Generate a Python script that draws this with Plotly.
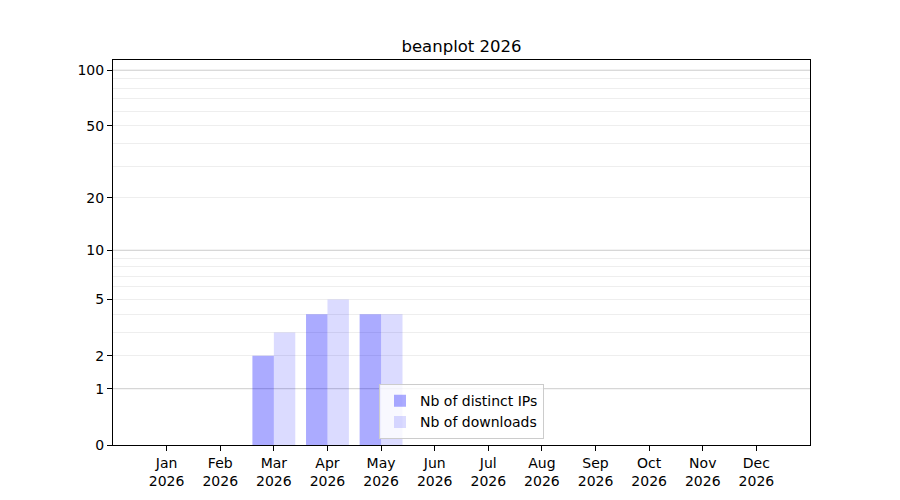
import plotly.graph_objects as go

# monthly stats for beanplot, 2026
months = ["Jan", "Feb", "Mar", "Apr", "May", "Jun",
          "Jul", "Aug", "Sep", "Oct", "Nov", "Dec"]
year = "2026"
distinct_ips = [0, 0, 2, 4, 4, 0, 0, 0, 0, 0, 0, 0]
downloads = [0, 0, 3, 5, 4, 0, 0, 0, 0, 0, 0, 0]

# y axis is log(1 + n): bars start at 1 on a log axis
y_ticks = [0, 1, 2, 5, 10, 20, 50, 100]
minor_grid = [2, 3, 4, 5, 6, 7, 8, 9, 20, 30, 40, 50, 60, 70, 80, 90]
major_grid = [1, 10, 100]

font = "DejaVu Sans"
x = list(range(len(months)))

fig = go.Figure()
fig.add_trace(go.Bar(
    x=x, y=distinct_ips, base=1,
    name="Nb of distinct IPs",
    marker=dict(color="rgba(0,0,255,0.33)", line_width=0),
))
fig.add_trace(go.Bar(
    x=x, y=downloads, base=1,
    name="Nb of downloads",
    marker=dict(color="rgba(0,0,255,0.14)", line_width=0),
))

# darker grid at the decades
for g in major_grid:
    fig.add_shape(type="line", xref="paper", x0=0, x1=1, yref="y",
                  y0=g + 1, y1=g + 1, layer="below",
                  line=dict(color="#cccccc", width=1))

fig.update_layout(
    width=900, height=500,
    margin=dict(l=105, r=98, t=52, b=63),
    paper_bgcolor="white", plot_bgcolor="white",
    font=dict(family=font, size=14, color="black"),
    title=dict(text="beanplot 2026", xref="paper", x=0.5, xanchor="center",
               y=0.924, yanchor="middle", font=dict(size=16.5)),
    barmode="group", bargap=0.2, bargroupgap=0,
    showlegend=True,
    legend=dict(x=0.5, xanchor="center", y=0.015, yanchor="bottom",
                bgcolor="rgba(255,255,255,0.8)", bordercolor="#cccccc",
                borderwidth=1, font=dict(size=14), itemwidth=30),
)
fig.update_xaxes(
    range=[-1, 12],
    tickmode="array", tickvals=x,
    ticktext=[f"{m}<br>{year}" for m in months],
    showgrid=False, zeroline=False,
    showline=True, linecolor="black", linewidth=1, mirror=True,
    ticks="outside", ticklen=5, tickcolor="black",
)
fig.update_yaxes(
    type="log", range=[0, 2.059],
    tickmode="array", tickvals=[t + 1 for t in y_ticks],
    ticktext=[str(t) for t in y_ticks],
    showgrid=False, zeroline=False,
    showline=True, linecolor="black", linewidth=1, mirror=True,
    ticks="outside", ticklen=5, tickcolor="black",
    minor=dict(tickmode="array", tickvals=[m + 1 for m in minor_grid],
               showgrid=True, gridcolor="#eeeeee", gridwidth=1, ticks=""),
)

fig.write_html("out.html")
